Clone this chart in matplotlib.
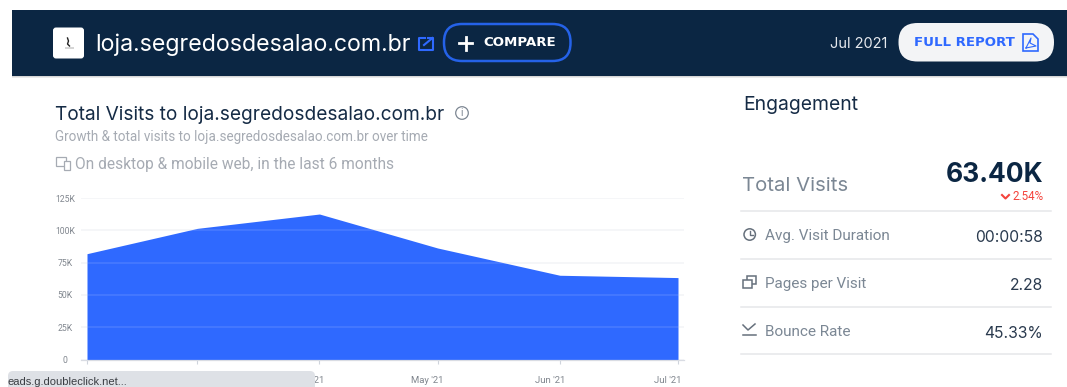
from __future__ import annotations

import matplotlib

matplotlib.use("Agg")

import matplotlib.dates as mdates
import matplotlib.pyplot as plt
import pandas as pd
from matplotlib.patches import Circle, FancyBboxPatch, Polygon, Rectangle
from matplotlib.transforms import ScaledTranslation

W, H = 1067, 387

month_starts = ["2021-02-01", "2021-03-01", "2021-04-01", "2021-05-01", "2021-06-01", "2021-07-01"]
months = ["Feb '21", "Mar '21", "Apr '21", "May '21", "Jun '21", "Jul '21"]
visits = [81900, 101500, 112600, 86300, 65200, 63400]
y_ticks = [0, 25000, 50000, 75000, 100000, 125000]
y_tick_labels = ["0", "25K", "50K", "75K", "100K", "125K"]

metric_names = ["Avg. Visit Duration", "Pages per Visit", "Bounce Rate"]
metric_values = ["00:00:58", "2.28", "45.33%"]

NAVY = "#0b2643"
BLUE = "#2f69ff"
INK = "#152b45"
GREY = "#7b8794"
LIGHT = "#a6abb3"
ICON = "#66707c"

plt.rcParams["font.family"] = ["Roboto", "DejaVu Sans"]


def rounded(ax, x0, y0, x1, y1, radius, **kwargs):
    box = FancyBboxPatch(
        (x0 + radius, y0 + radius),
        x1 - x0 - 2 * radius,
        y1 - y0 - 2 * radius,
        boxstyle=f"round,pad={radius},rounding_size={radius}",
        **kwargs,
    )
    ax.add_patch(box)
    return box


def draw_header(ax):
    # soft shadow under the navy bar
    for i, alpha in enumerate([0.28, 0.16, 0.08]):
        ax.add_patch(Rectangle((12, 75 + i), W - 12, 1.2, fc="black", alpha=alpha, ec="none"))
    ax.add_patch(Rectangle((12, 10), W - 12, 65.5, fc=NAVY, ec="none"))

    # site favicon
    rounded(ax, 53, 27.5, 84, 58.5, 3, fc="white", ec="none")
    ax.plot([67.5, 68.5, 67.5, 69.5], [38, 41, 44, 46], color="#222222", lw=1)
    ax.add_patch(Rectangle((65, 47), 9, 2, fc="#d5d5d5", ec="none"))

    ax.text(95.5, 44.5, "loja.segredosdesalao.com.br", color="white", fontsize=16.7,
            family="Inter", ha="left", va="center")

    # external link icon
    ax.plot([425, 419, 419, 432.5, 432.5], [38, 38, 50, 50, 44], color=BLUE, lw=1.5)
    ax.plot([424, 432.5], [45, 38], color=BLUE, lw=1.5)
    ax.plot([428, 432.5, 432.5], [38, 38, 42], color=BLUE, lw=1.5)

    rounded(ax, 444, 24, 570.5, 61, 18, fc="none", ec="#2562e8", lw=1.8)
    ax.plot([459, 472], [43, 43], color="white", lw=2)
    ax.plot([465.5, 465.5], [36.5, 49.5], color="white", lw=2)
    ax.text(483, 43, "COMPARE", color="white", fontsize=9.6, fontweight="bold", family="DejaVu Sans",
            ha="left", va="center")

    ax.text(830, 44, "Jul 2021", color="#e6e9ee", fontsize=10.5, family="Inter", ha="left", va="center")
    rounded(ax, 898.5, 23, 1054, 61.5, 19, fc="#f3f4f6", ec="none")
    ax.text(914, 42.5, "FULL REPORT", color=BLUE, fontsize=9.6, fontweight="bold", family="DejaVu Sans",
            ha="left", va="center")

    # pdf icon
    ax.add_patch(Polygon([(1023, 34), (1033, 34), (1038, 39), (1038, 51), (1023, 51)],
                         closed=True, fc="none", ec=BLUE, lw=1.2))
    ax.plot([1026, 1031, 1030, 1036, 1026], [48, 38, 43, 46, 48], color=BLUE, lw=0.8)


def draw_titles(ax):
    ax.text(55, 114.5, "Total Visits to loja.segredosdesalao.com.br", color=INK, fontsize=13.75,
            family="Inter", ha="left", va="center")
    ax.add_patch(Circle((462, 113), 6.3, fc="none", ec="#7d8793", lw=0.9))
    ax.text(462, 113, "i", color="#7d8793", fontsize=7.5, ha="center", va="center")
    ax.text(55, 137.5, "Growth & total visits to loja.segredosdesalao.com.br over time", color=LIGHT,
            fontsize=9.75, ha="left", va="center")
    ax.add_patch(Rectangle((56, 157), 10, 9, fc="none", ec=LIGHT, lw=0.9))
    ax.add_patch(Rectangle((64, 161), 6, 9, fc="white", ec=LIGHT, lw=0.9))
    ax.text(75, 164, "On desktop & mobile web, in the last 6 months", color=LIGHT, fontsize=11.2,
            ha="left", va="center")


def draw_engagement(ax):
    ax.text(743, 104.5, "Engagement", color=INK, fontsize=13.9, family="Inter", ha="left", va="center")
    ax.text(742, 186, "Total Visits", color=GREY, fontsize=14.6, family="Inter", ha="left", va="center")
    ax.text(1043, 175, "63.40K", color=NAVY, fontsize=19, fontweight="bold", family="Inter",
            ha="right", va="center")
    ax.plot([1002, 1005.5, 1009], [195, 198.5, 195], color="#f4433c", lw=1.5)
    ax.text(1044, 197, "2.54%", color="#f4433c", fontsize=8.4, ha="right", va="center")

    for y in [211, 259, 307, 354]:
        ax.plot([741, 1051], [y, y], color="#e6e7e9", lw=1.1)

    for name, value, y in zip(metric_names, metric_values, [236, 284, 332]):
        ax.text(765, y, name, color=GREY, fontsize=11, ha="left", va="center")
        ax.text(1043, y + 1.5, value, color="#2a3a4e", fontsize=11.3, family="Inter", ha="right", va="center")

    # metric icons
    ax.add_patch(Circle((749.7, 234.5), 5.7, fc="none", ec=ICON, lw=1.1))
    ax.plot([749.7, 749.7, 752.7], [231, 235, 235], color=ICON, lw=1)
    ax.add_patch(Rectangle((747, 275.5), 9, 8.5, fc="none", ec=ICON, lw=1.1))
    ax.add_patch(Rectangle((743, 279.5), 9, 8.5, fc="white", ec=ICON, lw=1.1))
    ax.plot([743, 756], [335, 335], color=ICON, lw=1.1)
    ax.plot([743, 748, 755], [325, 330, 324], color=ICON, lw=1.1)


def draw_chart(fig):
    ax = fig.add_axes([81 / W, 1 - 359.5 / H, (684 - 81) / W, 161.5 / H])
    ax.set_facecolor("none")
    dates = pd.to_datetime(month_starts)
    x = mdates.date2num(dates)
    # grid runs a few pixels past the first and last month
    pad = 6 * (x[-1] - x[0]) / (678 - 87)
    ax.set_xlim(x[0] - pad, x[-1] + pad)
    ax.set_ylim(0, 125000)

    ax.grid(axis="y", color="#f3f4f6", lw=1.1, zorder=0)
    ax.set_axisbelow(True)
    ax.fill_between(x, visits, 0, color=BLUE, lw=0, zorder=2)
    for value in y_ticks[1:-1]:
        ax.axhline(value, color="white", alpha=0.13, lw=1.1, zorder=3)

    for side in ["top", "right", "left"]:
        ax.spines[side].set_visible(False)
    ax.spines["bottom"].set_color("#d9dce3")
    ax.spines["bottom"].set_linewidth(0.9)

    ax.set_yticks(y_ticks, y_tick_labels)
    ax.tick_params(axis="y", length=0, pad=11.5, labelsize=6.2, labelcolor="#80868e")
    for label in ax.get_yticklabels():
        label.set_ha("center")

    ax.set_xticks(x, months)
    ax.tick_params(axis="x", length=3, width=0.8, color="#cfd4dc", pad=9, labelsize=6.8, labelcolor="#80868e")
    shift = ScaledTranslation(-10 / 100, 0, fig.dpi_scale_trans)
    for label in ax.get_xticklabels():
        label.set_transform(label.get_transform() + shift)
    # first two month labels sit fully behind the status bubble
    for label in ax.get_xticklabels()[:2]:
        label.set_visible(False)


def draw_status_bar(ax):
    # browser status bubble sits over the first axis labels
    rounded(ax, 8, 371, 315, 395, 5, fc="#dee1e6", ec="none", zorder=10)
    ax.text(7, 382, "eads.g.doubleclick.net...", color="#3a3d42", fontsize=8, ha="left", va="center",
            family="Liberation Sans", zorder=11)


fig = plt.figure(figsize=(W / 100, H / 100), dpi=100, facecolor="white")
canvas = fig.add_axes([0, 0, 1, 1], zorder=5)
canvas.set_xlim(0, W)
canvas.set_ylim(H, 0)
canvas.axis("off")
canvas.patch.set_alpha(0)

draw_chart(fig)
draw_header(canvas)
draw_titles(canvas)
draw_engagement(canvas)
draw_status_bar(canvas)

fig.savefig("out.png", dpi=100)
